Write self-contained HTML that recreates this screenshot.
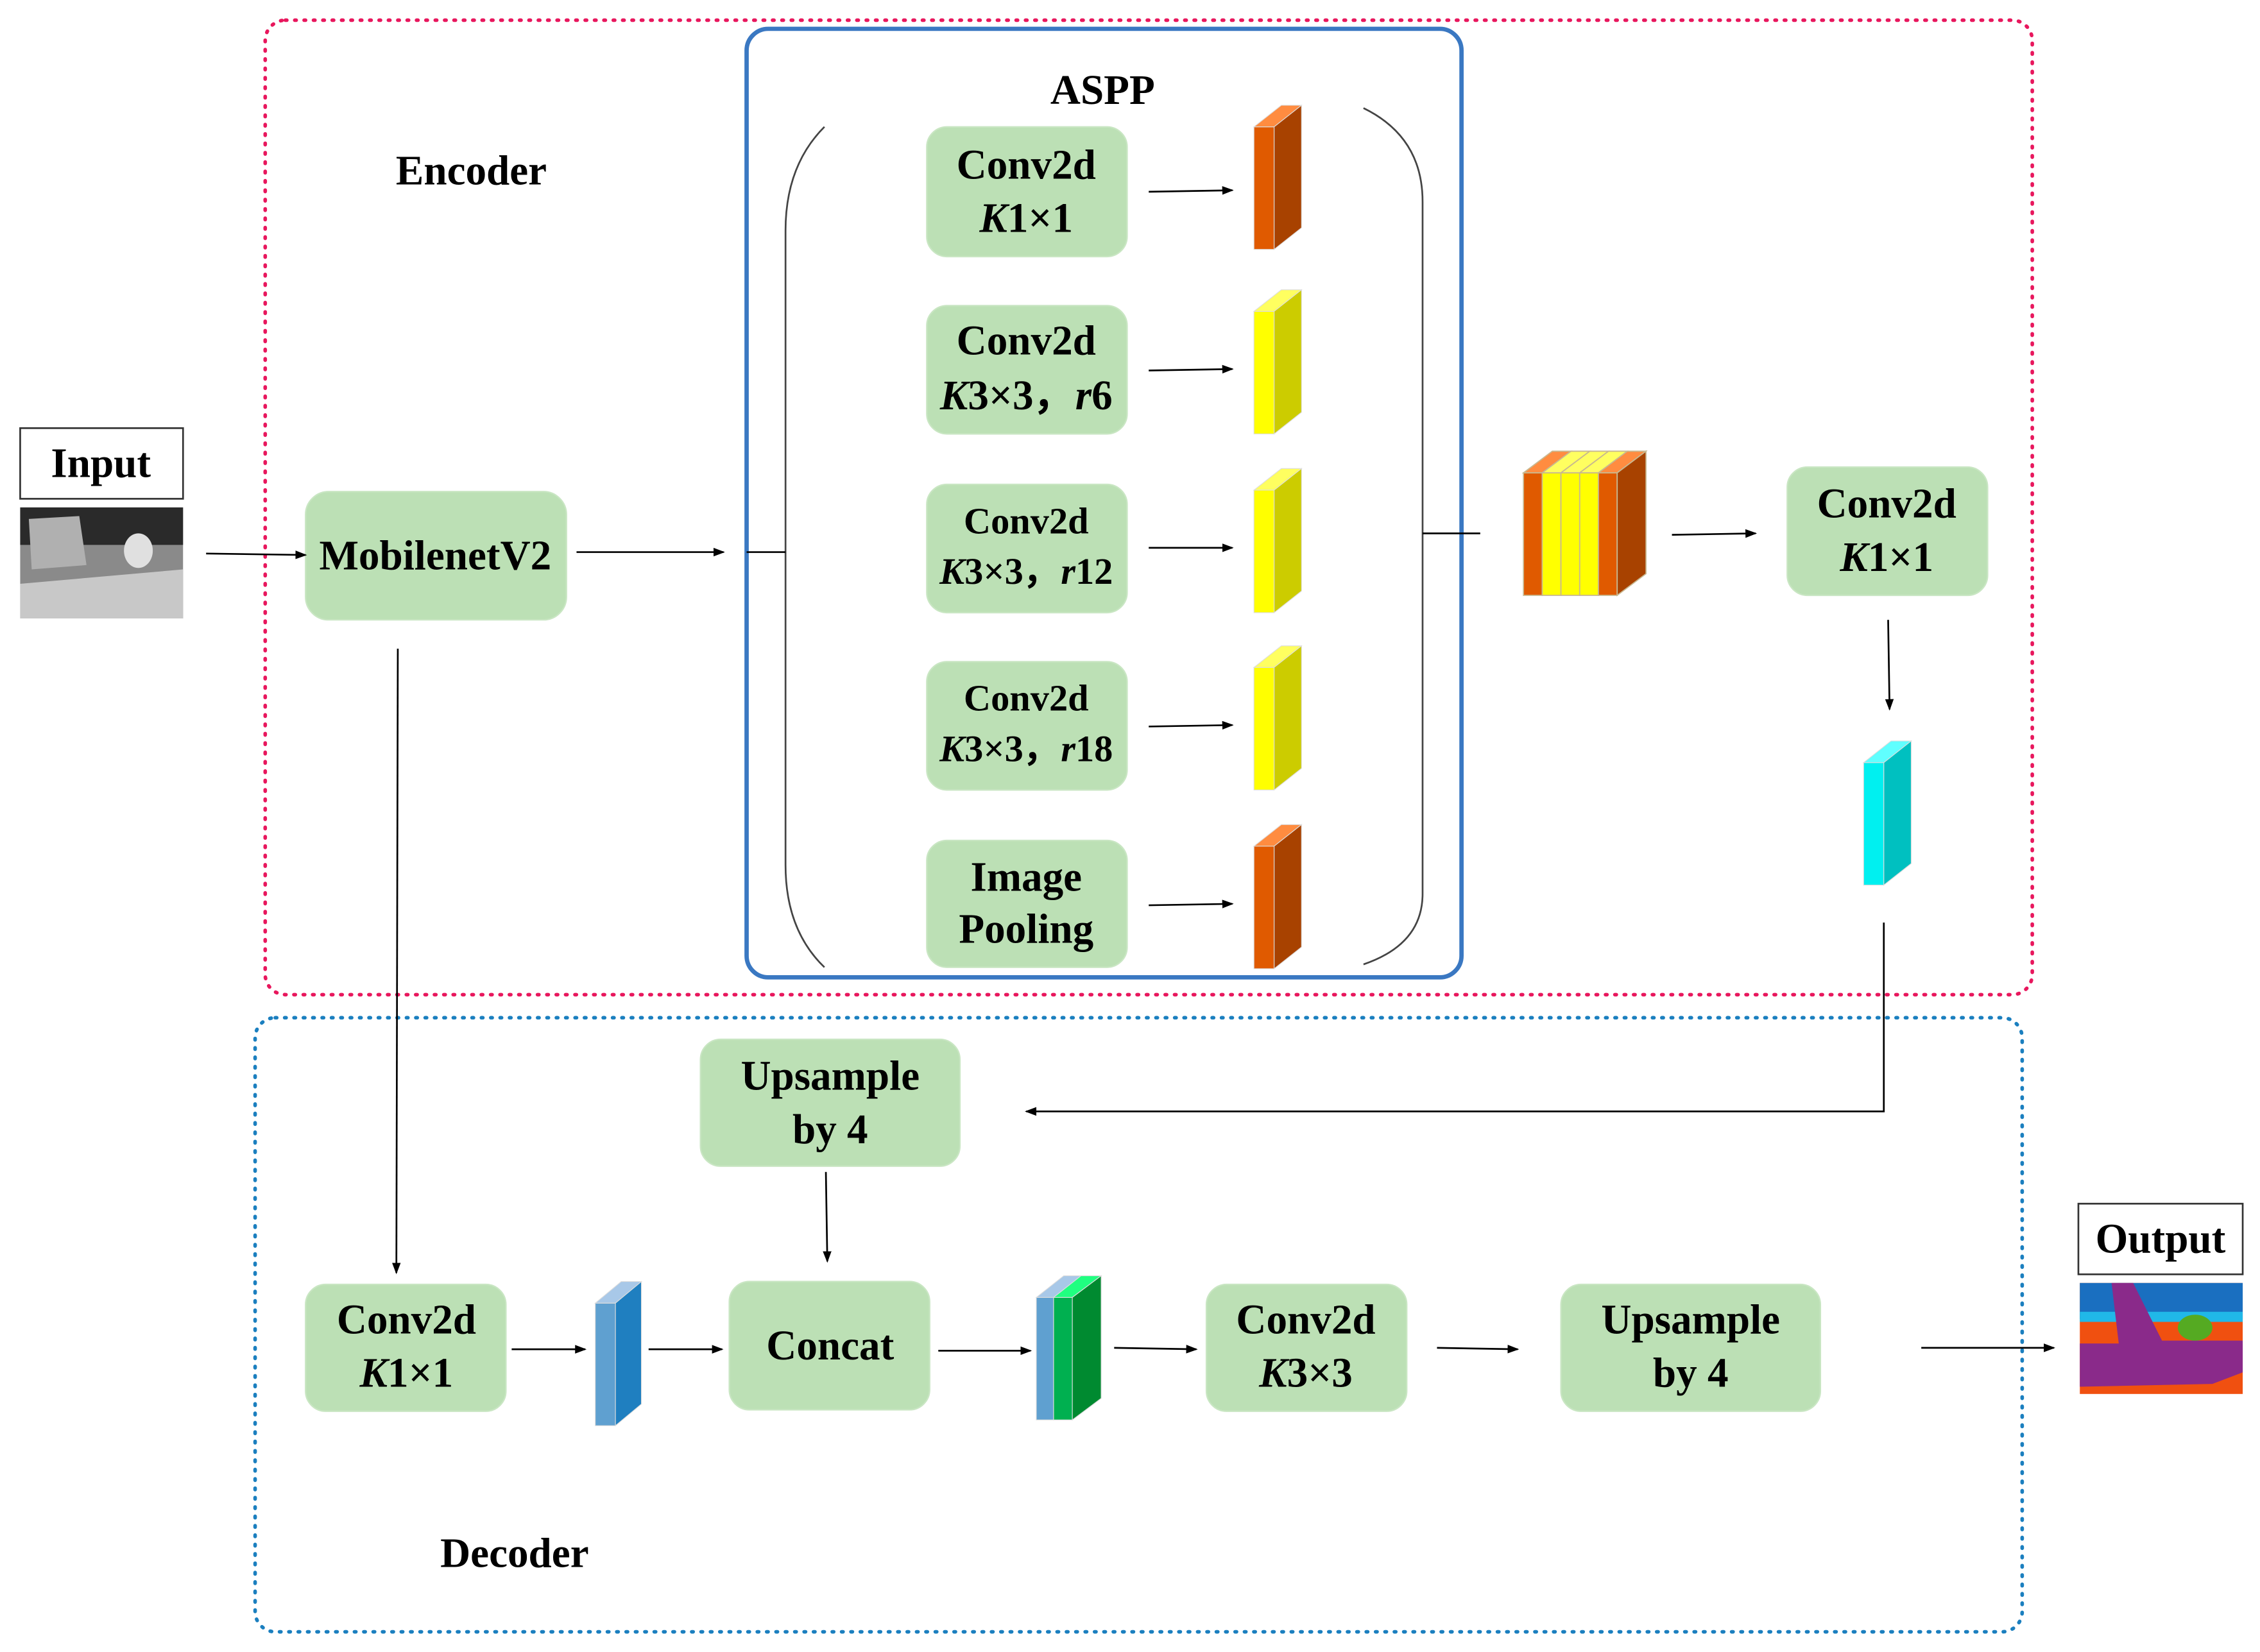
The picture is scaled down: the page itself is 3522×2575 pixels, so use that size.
<!DOCTYPE html>
<html><head><meta charset="utf-8"><style>html,body{margin:0;padding:0;background:#fff}svg{display:block}svg text{font-family:"Liberation Serif","Times New Roman",Tinos,"DejaVu Serif",serif;font-weight:bold}</style></head><body>
<svg width="3522" height="2575" viewBox="0 0 1568 1146" preserveAspectRatio="none" xmlns="http://www.w3.org/2000/svg">
<defs>
<marker id="a" markerWidth="8" markerHeight="8" refX="7" refY="4" orient="auto" markerUnits="userSpaceOnUse"><path d="M0,1 L8,4 L0,7z" fill="#000"/></marker>
</defs>
<rect x="184" y="14" width="1226" height="676" rx="14" fill="none" stroke="#e8175d" stroke-width="2.5" stroke-dasharray="1 5.5" stroke-linecap="round"/>
<rect x="177" y="706" width="1226" height="426" rx="14" fill="none" stroke="#1b7fbf" stroke-width="2.5" stroke-dasharray="1 5.5" stroke-linecap="round"/>
<rect x="518" y="20" width="496" height="658" rx="15" fill="none" stroke="#3a78c2" stroke-width="3"/>
<g font-size="29" text-anchor="middle">
<text x="765" y="72">ASPP</text>
<text x="327" y="128">Encoder</text>
<text x="357" y="1087">Decoder</text>
</g>
<path d="M572,88 Q545,115 545,160 L545,600 Q545,645 572,671" fill="none" stroke="#444" stroke-width="1.2"/>
<path d="M946,75 Q987,95 987,140 L987,620 Q987,655 946,669" fill="none" stroke="#444" stroke-width="1.2"/>
<g fill="#bce0b5" stroke="#c9e6c3" stroke-width="1">
<rect x="643" y="88" width="139" height="90" rx="14"/>
<rect x="643" y="212" width="139" height="89" rx="14"/>
<rect x="643" y="336" width="139" height="89" rx="14"/>
<rect x="643" y="459" width="139" height="89" rx="14"/>
<rect x="643" y="583" width="139" height="88" rx="14"/>
<rect x="212" y="341" width="181" height="89" rx="16"/>
<rect x="1240" y="324" width="139" height="89" rx="14"/>
<rect x="486" y="721" width="180" height="88" rx="14"/>
<rect x="212" y="891" width="139" height="88" rx="14"/>
<rect x="506" y="889" width="139" height="89" rx="14"/>
<rect x="837" y="891" width="139" height="88" rx="14"/>
<rect x="1083" y="891" width="180" height="88" rx="14"/>
</g>
<g font-size="29" text-anchor="middle">
<text x="712" y="124">Conv2d</text><text x="712" y="161"><tspan font-style="italic">K</tspan>1×1</text>
<text x="712" y="246">Conv2d</text><text x="712" y="284"><tspan font-style="italic">K</tspan>3×3，<tspan font-style="italic">r</tspan>6</text>
<text x="712" y="370" font-size="26">Conv2d</text><text x="712" y="405" font-size="26"><tspan font-style="italic">K</tspan>3×3，<tspan font-style="italic">r</tspan>12</text>
<text x="712" y="493" font-size="26">Conv2d</text><text x="712" y="528" font-size="26"><tspan font-style="italic">K</tspan>3×3，<tspan font-style="italic">r</tspan>18</text>
<text x="712" y="618">Image</text><text x="712" y="654">Pooling</text>
<text x="302" y="395">MobilenetV2</text>
<text x="1309" y="359">Conv2d</text><text x="1309" y="396"><tspan font-style="italic">K</tspan>1×1</text>
<text x="576" y="756">Upsample</text><text x="576" y="793">by 4</text>
<text x="282" y="925">Conv2d</text><text x="282" y="962"><tspan font-style="italic">K</tspan>1×1</text>
<text x="576" y="943">Concat</text>
<text x="906" y="925">Conv2d</text><text x="906" y="962"><tspan font-style="italic">K</tspan>3×3</text>
<text x="1173" y="925">Upsample</text><text x="1173" y="962">by 4</text>
</g>
<rect x="14" y="297" width="113" height="49" fill="#fff" stroke="#333" stroke-width="1.2"/>
<text x="70" y="331" font-size="29" text-anchor="middle">Input</text>
<rect x="14" y="352" width="113" height="77" fill="#8a8a8a"/>
<rect x="14" y="352" width="113" height="26" fill="#2a2a2a"/>
<path d="M14,405 L127,395 L127,429 L14,429z" fill="#c8c8c8"/>
<path d="M20,360 L55,358 L60,392 L22,395z" fill="#b0b0b0"/>
<ellipse cx="96" cy="382" rx="10" ry="12" fill="#e0e0e0"/>
<rect x="1442" y="835" width="114" height="49" fill="#fff" stroke="#333" stroke-width="1.2"/>
<text x="1499" y="869" font-size="29" text-anchor="middle">Output</text>
<rect x="1443" y="890" width="113" height="77" fill="#f05010"/>
<rect x="1443" y="890" width="113" height="25" fill="#1a6fc0"/>
<rect x="1443" y="910" width="113" height="7" fill="#20b8e8"/>
<path d="M1443,932 L1470,932 L1465,890 L1480,890 L1495,920 L1500,930 L1556,930 L1556,952 L1535,960 L1443,962z" fill="#8a2a8a"/>
<ellipse cx="1523" cy="921" rx="12" ry="9" fill="#55aa22"/>
<g stroke="#ddd" stroke-width="0.5">
<rect x="870" y="88" width="14" height="85" fill="#e05a00"/><path d="M870,88 L884,88 L903,73 L889,73z" fill="#ff8c40"/><path d="M884,88 L903,73 L903,158 L884,173z" fill="#a84200"/>
<rect x="870" y="216" width="14" height="85" fill="#ffff00"/><path d="M870,216 L884,216 L903,201 L889,201z" fill="#ffff60"/><path d="M884,216 L903,201 L903,286 L884,301z" fill="#cccc00"/>
<rect x="870" y="340" width="14" height="85" fill="#ffff00"/><path d="M870,340 L884,340 L903,325 L889,325z" fill="#ffff60"/><path d="M884,340 L903,325 L903,410 L884,425z" fill="#cccc00"/>
<rect x="870" y="463" width="14" height="85" fill="#ffff00"/><path d="M870,463 L884,463 L903,448 L889,448z" fill="#ffff60"/><path d="M884,463 L903,448 L903,533 L884,548z" fill="#cccc00"/>
<rect x="870" y="587" width="14" height="85" fill="#e05a00"/><path d="M870,587 L884,587 L903,572 L889,572z" fill="#ff8c40"/><path d="M884,587 L903,572 L903,657 L884,672z" fill="#a84200"/>
</g>
<g stroke="#c8b890" stroke-width="0.8">
<rect x="1057" y="328" width="13" height="85" fill="#e05a00"/>
<rect x="1070" y="328" width="13" height="85" fill="#ffff00"/>
<rect x="1083" y="328" width="13" height="85" fill="#ffff00"/>
<rect x="1096" y="328" width="13" height="85" fill="#ffff00"/>
<rect x="1109" y="328" width="13" height="85" fill="#e05a00"/>
<path d="M1057,328 L1070,328 L1090,313 L1077,313z" fill="#ff8c40"/>
<path d="M1070,328 L1083,328 L1103,313 L1090,313z" fill="#ffff60"/>
<path d="M1083,328 L1096,328 L1116,313 L1103,313z" fill="#ffff60"/>
<path d="M1096,328 L1109,328 L1129,313 L1116,313z" fill="#ffff60"/>
<path d="M1109,328 L1122,328 L1142,313 L1129,313z" fill="#ff8c40"/>
<path d="M1122,328 L1142,313 L1142,398 L1122,413z" fill="#a84200"/>
</g>
<g stroke="#ddd" stroke-width="0.5">
<rect x="1293" y="529" width="14" height="85" fill="#00f0f0"/><path d="M1293,529 L1307,529 L1326,514 L1312,514z" fill="#60ffff"/><path d="M1307,529 L1326,514 L1326,599 L1307,614z" fill="#00c0c0"/>
<rect x="413" y="904" width="14" height="85" fill="#5fa0d0"/><path d="M413,904 L427,904 L445,889 L431,889z" fill="#a8c8e8"/><path d="M427,904 L445,889 L445,974 L427,989z" fill="#1f7fc0"/>
<rect x="719" y="900" width="12" height="85" fill="#5fa0d0"/><rect x="731" y="900" width="13" height="85" fill="#00b050"/>
<path d="M719,900 L731,900 L750,885 L738,885z" fill="#a8c8e8"/><path d="M731,900 L744,900 L764,885 L750,885z" fill="#20ff80"/>
<path d="M744,900 L764,885 L764,970 L744,985z" fill="#008a30"/>
</g>
<g stroke="#000" stroke-width="1.2" fill="none">
<line x1="797" y1="133" x2="855" y2="132" marker-end="url(#a)"/>
<line x1="797" y1="257" x2="855" y2="256" marker-end="url(#a)"/>
<line x1="797" y1="380" x2="855" y2="380" marker-end="url(#a)"/>
<line x1="797" y1="504" x2="855" y2="503" marker-end="url(#a)"/>
<line x1="797" y1="628" x2="855" y2="627" marker-end="url(#a)"/>
<line x1="143" y1="384" x2="212" y2="385" marker-end="url(#a)"/>
<line x1="400" y1="383" x2="502" y2="383" marker-end="url(#a)"/>
<line x1="518" y1="383" x2="545" y2="383"/>
<line x1="987" y1="370" x2="1027" y2="370"/>
<line x1="1160" y1="371" x2="1218" y2="370" marker-end="url(#a)"/>
<line x1="1310" y1="430" x2="1311" y2="492" marker-end="url(#a)"/>
<polyline points="1307,640 1307,771 712,771" marker-end="url(#a)"/>
<line x1="573" y1="813" x2="574" y2="875" marker-end="url(#a)"/>
<line x1="276" y1="450" x2="275" y2="883" marker-end="url(#a)"/>
<line x1="355" y1="936" x2="406" y2="936" marker-end="url(#a)"/>
<line x1="450" y1="936" x2="501" y2="936" marker-end="url(#a)"/>
<line x1="651" y1="937" x2="715" y2="937" marker-end="url(#a)"/>
<line x1="773" y1="935" x2="830" y2="936" marker-end="url(#a)"/>
<line x1="997" y1="935" x2="1053" y2="936" marker-end="url(#a)"/>
<line x1="1333" y1="935" x2="1425" y2="935" marker-end="url(#a)"/>
</g>
</svg>
</body></html>
